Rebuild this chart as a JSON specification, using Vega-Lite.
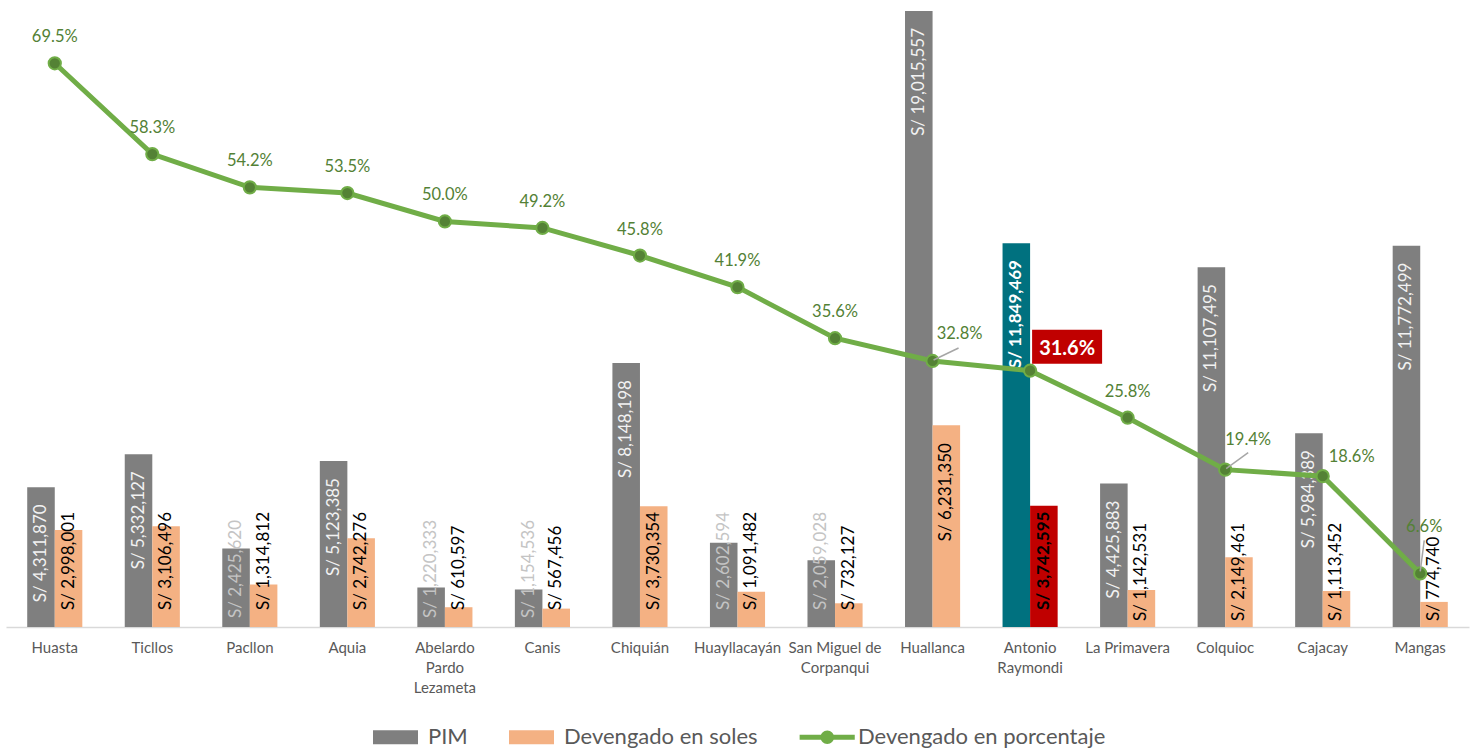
{
  "$schema": "https://vega.github.io/schema/vega-lite/v6.json",
  "width": 1463,
  "height": 627,
  "padding": {"left": 6, "top": 0, "right": 5, "bottom": 0},
  "background": "white",
  "datasets": {
    "bars": [
      {"distrito": "Huasta", "serie": "PIM", "monto": 4311870},
      {"distrito": "Huasta", "serie": "Devengado en soles", "monto": 2998001},
      {"distrito": "Ticllos", "serie": "PIM", "monto": 5332127},
      {"distrito": "Ticllos", "serie": "Devengado en soles", "monto": 3106496},
      {"distrito": "Pacllon", "serie": "PIM", "monto": 2425620},
      {"distrito": "Pacllon", "serie": "Devengado en soles", "monto": 1314812},
      {"distrito": "Aquia", "serie": "PIM", "monto": 5123385},
      {"distrito": "Aquia", "serie": "Devengado en soles", "monto": 2742276},
      {"distrito": "Abelardo Pardo Lezameta", "serie": "PIM", "monto": 1220333},
      {"distrito": "Abelardo Pardo Lezameta", "serie": "Devengado en soles", "monto": 610597},
      {"distrito": "Canis", "serie": "PIM", "monto": 1154536},
      {"distrito": "Canis", "serie": "Devengado en soles", "monto": 567456},
      {"distrito": "Chiquián", "serie": "PIM", "monto": 8148198},
      {"distrito": "Chiquián", "serie": "Devengado en soles", "monto": 3730354},
      {"distrito": "Huayllacayán", "serie": "PIM", "monto": 2602594},
      {"distrito": "Huayllacayán", "serie": "Devengado en soles", "monto": 1091482},
      {"distrito": "San Miguel de Corpanqui", "serie": "PIM", "monto": 2059028},
      {"distrito": "San Miguel de Corpanqui", "serie": "Devengado en soles", "monto": 732127},
      {"distrito": "Huallanca", "serie": "PIM", "monto": 19015557},
      {"distrito": "Huallanca", "serie": "Devengado en soles", "monto": 6231350},
      {"distrito": "Antonio Raymondi", "serie": "PIM", "monto": 11849469},
      {"distrito": "Antonio Raymondi", "serie": "Devengado en soles", "monto": 3742595},
      {"distrito": "La Primavera", "serie": "PIM", "monto": 4425883},
      {"distrito": "La Primavera", "serie": "Devengado en soles", "monto": 1142531},
      {"distrito": "Colquioc", "serie": "PIM", "monto": 11107495},
      {"distrito": "Colquioc", "serie": "Devengado en soles", "monto": 2149461},
      {"distrito": "Cajacay", "serie": "PIM", "monto": 5984389},
      {"distrito": "Cajacay", "serie": "Devengado en soles", "monto": 1113452},
      {"distrito": "Mangas", "serie": "PIM", "monto": 11772499},
      {"distrito": "Mangas", "serie": "Devengado en soles", "monto": 774740}
    ],
    "pct": [
      {"distrito": "Huasta", "pct": 0.695},
      {"distrito": "Ticllos", "pct": 0.583},
      {"distrito": "Pacllon", "pct": 0.542},
      {"distrito": "Aquia", "pct": 0.535},
      {"distrito": "Abelardo Pardo Lezameta", "pct": 0.500},
      {"distrito": "Canis", "pct": 0.492},
      {"distrito": "Chiquián", "pct": 0.458},
      {"distrito": "Huayllacayán", "pct": 0.419},
      {"distrito": "San Miguel de Corpanqui", "pct": 0.356},
      {"distrito": "Huallanca", "pct": 0.328},
      {"distrito": "Antonio Raymondi", "pct": 0.316},
      {"distrito": "La Primavera", "pct": 0.258},
      {"distrito": "Colquioc", "pct": 0.194},
      {"distrito": "Cajacay", "pct": 0.186},
      {"distrito": "Mangas", "pct": 0.066}
    ]
  },
  "encoding": {
    "x": {
      "field": "distrito",
      "type": "nominal",
      "scale": {
        "domain": ["Huasta", "Ticllos", "Pacllon", "Aquia", "Abelardo Pardo Lezameta", "Canis", "Chiquián", "Huayllacayán", "San Miguel de Corpanqui", "Huallanca", "Antonio Raymondi", "La Primavera", "Colquioc", "Cajacay", "Mangas"],
        "paddingInner": 0.435,
        "paddingOuter": 0.2175
      },
      "axis": {
        "title": null,
        "labelAngle": 0,
        "ticks": false,
        "tickSize": 0,
        "labelPadding": 13,
        "domainColor": "#D9D9D9",
        "domainWidth": 1.5,
        "labelFont": "Lato",
        "labelFontSize": 15,
        "labelColor": "#595959",
        "labelLineHeight": 20,
        "labelOverlap": false,
        "labelLimit": 0,
        "labelBound": false,
        "grid": false,
        "labelExpr": "datum.value == 'Abelardo Pardo Lezameta' ? ['Abelardo','Pardo','Lezameta'] : datum.value == 'San Miguel de Corpanqui' ? ['San Miguel de','Corpanqui'] : datum.value == 'Antonio Raymondi' ? ['Antonio','Raymondi'] : datum.value"
      }
    }
  },
  "layer": [
    {
      "data": {"name": "bars"},
      "encoding": {
        "xOffset": {"field": "serie", "type": "nominal", "scale": {"domain": ["PIM", "Devengado en soles"], "paddingInner": 0, "paddingOuter": 0}}
      },
      "layer": [
        {
          "mark": {"type": "bar"},
          "encoding": {
            "y": {"field": "monto", "type": "quantitative", "scale": {"domain": [0, 19355000], "nice": false, "zero": true}, "axis": null},
            "color": {
              "field": "serie",
              "type": "nominal",
              "scale": {"domain": ["PIM", "Devengado en soles", "Devengado en porcentaje"], "range": ["#7F7F7F", "#F4B183", "#70AD47"]},
              "condition": [
                {"test": "datum.distrito === 'Antonio Raymondi' && datum.serie === 'PIM'", "value": "#00717F"},
                {"test": "datum.distrito === 'Antonio Raymondi' && datum.serie === 'Devengado en soles'", "value": "#C00000"}
              ],
              "legend": {
                "orient": "none",
                "legendX": 367,
                "legendY": 714.5,
                "direction": "horizontal",
                "title": null,
                "padding": 0,
                "labelFont": "Lato",
                "labelFontSize": 22,
                "labelColor": "#595959",
                "labelLimit": 0,
                "labelOffset": 10,
                "columnPadding": 41,
                "symbolType": "M-1,-0.31H1V0.31H-1Z",
                "symbolSize": 2025,
                "symbolStrokeWidth": 0,
                "symbolOpacity": 1,
                "encode": {
                  "symbols": {
                    "update": {
                      "shape": {"signal": "datum.value === 'Devengado en porcentaje' ? 'M-1.15,-0.11H1.3V0.11H-1.15Z M0.38,0A0.3,0.3 0 1,1 -0.22,0A0.3,0.3 0 1,1 0.38,0Z' : 'M-1,-0.31H1V0.31H-1Z'"},
                      "fill": {"signal": "scale('color', datum.value)"},
                      "stroke": {"value": "transparent"},
                      "opacity": {"value": 1},
                      "fillOpacity": {"value": 1}
                    }
                  }
                }
              }
            }
          }
        },
        {
          "transform": [{"filter": "datum.serie === 'PIM' && datum.monto >= 3000000 && datum.distrito !== 'Antonio Raymondi'"}],
          "mark": {"type": "text", "angle": 270, "align": "right", "baseline": "middle", "dx": -17, "font": "Lato", "fontSize": 17, "fill": "#F2F2F2"},
          "encoding": {
            "y": {"field": "monto", "type": "quantitative"},
            "text": {"field": "monto", "type": "quantitative", "format": "$,.0f"}
          }
        },
        {
          "transform": [{"filter": "datum.serie === 'PIM' && indexof(['Pacllon','Abelardo Pardo Lezameta','Canis'], datum.distrito) >= 0"}],
          "mark": {"type": "text", "angle": 270, "align": "left", "baseline": "middle", "dx": 9, "font": "Lato", "fontSize": 17, "fill": "#C4C4C4"},
          "encoding": {
            "y": {"datum": 0, "type": "quantitative"},
            "text": {"field": "monto", "type": "quantitative", "format": "$,.0f"}
          }
        },
        {
          "transform": [{"filter": "datum.serie === 'PIM' && indexof(['Huayllacayán','San Miguel de Corpanqui'], datum.distrito) >= 0"}],
          "mark": {"type": "text", "angle": 270, "align": "left", "baseline": "middle", "dx": 17, "font": "Lato", "fontSize": 17, "fill": "#C4C4C4"},
          "encoding": {
            "y": {"datum": 0, "type": "quantitative"},
            "text": {"field": "monto", "type": "quantitative", "format": "$,.0f"}
          }
        },
        {
          "transform": [{"filter": "datum.serie === 'Devengado en soles' && indexof(['Huasta','Ticllos','Pacllon','Aquia','Abelardo Pardo Lezameta','Canis','Chiquián','Huayllacayán','San Miguel de Corpanqui'], datum.distrito) >= 0"}],
          "mark": {"type": "text", "angle": 270, "align": "left", "baseline": "middle", "dx": 17, "font": "Lato", "fontSize": 17, "fill": "#000000"},
          "encoding": {
            "y": {"datum": 0, "type": "quantitative"},
            "text": {"field": "monto", "type": "quantitative", "format": "$,.0f"}
          }
        },
        {
          "transform": [{"filter": "datum.serie === 'Devengado en soles' && indexof(['La Primavera','Colquioc','Cajacay','Mangas'], datum.distrito) >= 0"}],
          "mark": {"type": "text", "angle": 270, "align": "left", "baseline": "middle", "dx": 6, "font": "Lato", "fontSize": 17, "fill": "#000000"},
          "encoding": {
            "y": {"datum": 0, "type": "quantitative"},
            "text": {"field": "monto", "type": "quantitative", "format": "$,.0f"}
          }
        },
        {
          "transform": [{"filter": "datum.serie === 'Devengado en soles' && datum.distrito === 'Huallanca'"}],
          "mark": {"type": "text", "angle": 270, "align": "right", "baseline": "middle", "dx": -18, "font": "Lato", "fontSize": 17, "fill": "#000000"},
          "encoding": {
            "y": {"field": "monto", "type": "quantitative"},
            "text": {"field": "monto", "type": "quantitative", "format": "$,.0f"}
          }
        },
        {
          "transform": [{"filter": "datum.serie === 'PIM' && datum.distrito === 'Antonio Raymondi'"}],
          "mark": {"type": "text", "angle": 270, "align": "right", "baseline": "middle", "dx": -17, "font": "Lato", "fontSize": 17, "fontWeight": "bold", "fill": "#FFFFFF"},
          "encoding": {
            "y": {"field": "monto", "type": "quantitative"},
            "text": {"field": "monto", "type": "quantitative", "format": "$,.0f"}
          }
        },
        {
          "transform": [{"filter": "datum.serie === 'Devengado en soles' && datum.distrito === 'Antonio Raymondi'"}],
          "mark": {"type": "text", "angle": 270, "align": "left", "baseline": "middle", "dx": 17, "font": "Lato", "fontSize": 17, "fontWeight": "bold", "fill": "#000000"},
          "encoding": {
            "y": {"datum": 0, "type": "quantitative"},
            "text": {"field": "monto", "type": "quantitative", "format": "$,.0f"}
          }
        }
      ]
    },
    {
      "data": {"name": "pct"},
      "encoding": {
        "y": {"field": "pct", "type": "quantitative", "scale": {"domain": [0, 0.773], "nice": false, "zero": true}, "axis": null}
      },
      "layer": [
        {
          "mark": {"type": "line", "strokeWidth": 5},
          "encoding": {
            "color": {"datum": "Devengado en porcentaje", "type": "nominal", "scale": {"domain": ["PIM", "Devengado en soles", "Devengado en porcentaje"], "range": ["#7F7F7F", "#F4B183", "#70AD47"]}}
          }
        },
        {
          "mark": {"type": "point", "filled": true, "size": 150, "fill": "#548235", "stroke": "#70AD47", "strokeWidth": 2, "opacity": 1}
        },
        {
          "transform": [{"filter": "datum.distrito === 'Huallanca'"}],
          "mark": {"type": "point", "shape": "M1,-1L26,-13", "size": 4, "filled": false, "stroke": "#A6A6A6", "strokeWidth": 1.5, "opacity": 1}
        },
        {
          "transform": [{"filter": "datum.distrito === 'Colquioc'"}],
          "mark": {"type": "point", "shape": "M1,-1L23,-17", "size": 4, "filled": false, "stroke": "#A6A6A6", "strokeWidth": 1.5, "opacity": 1}
        },
        {
          "transform": [{"filter": "datum.distrito === 'Mangas'"}],
          "mark": {"type": "point", "shape": "M0,-2L4,-33", "size": 4, "filled": false, "stroke": "#A6A6A6", "strokeWidth": 1.5, "opacity": 1}
        },
        {
          "transform": [{"filter": "datum.distrito === 'Antonio Raymondi'"}],
          "mark": {"type": "point", "shape": "M2,-41H72V-7H2Z", "size": 4, "filled": true, "fill": "#C00000", "strokeWidth": 0, "opacity": 1}
        },
        {
          "transform": [{"filter": "indexof(['Huallanca','Antonio Raymondi','Colquioc','Cajacay','Mangas'], datum.distrito) < 0"}],
          "mark": {"type": "text", "dy": -26, "font": "Lato", "fontSize": 16.5, "fill": "#538135", "baseline": "middle"},
          "encoding": {"text": {"field": "pct", "type": "quantitative", "format": ".1%"}}
        },
        {
          "transform": [{"filter": "datum.distrito === 'Huallanca'"}],
          "mark": {"type": "text", "dx": 27, "dy": -27, "font": "Lato", "fontSize": 16.5, "fill": "#538135", "baseline": "middle"},
          "encoding": {"text": {"field": "pct", "type": "quantitative", "format": ".1%"}}
        },
        {
          "transform": [{"filter": "datum.distrito === 'Antonio Raymondi'"}],
          "mark": {"type": "text", "dx": 37, "dy": -22, "font": "Lato", "fontSize": 20, "fontWeight": "bold", "fill": "#FFFFFF", "baseline": "middle"},
          "encoding": {"text": {"field": "pct", "type": "quantitative", "format": ".1%"}}
        },
        {
          "transform": [{"filter": "datum.distrito === 'Colquioc'"}],
          "mark": {"type": "text", "dx": 23, "dy": -30, "font": "Lato", "fontSize": 16.5, "fill": "#538135", "baseline": "middle"},
          "encoding": {"text": {"field": "pct", "type": "quantitative", "format": ".1%"}}
        },
        {
          "transform": [{"filter": "datum.distrito === 'Cajacay'"}],
          "mark": {"type": "text", "dx": 29, "dy": -19, "font": "Lato", "fontSize": 16.5, "fill": "#538135", "baseline": "middle"},
          "encoding": {"text": {"field": "pct", "type": "quantitative", "format": ".1%"}}
        },
        {
          "transform": [{"filter": "datum.distrito === 'Mangas'"}],
          "mark": {"type": "text", "dx": 4, "dy": -46, "font": "Lato", "fontSize": 16.5, "fill": "#538135", "baseline": "middle"},
          "encoding": {"text": {"field": "pct", "type": "quantitative", "format": ".1%"}}
        }
      ]
    }
  ],
  "resolve": {"scale": {"y": "independent"}},
  "config": {
    "view": {"stroke": null},
    "font": "Lato",
    "locale": {"number": {"decimal": ".", "thousands": ",", "grouping": [3], "currency": ["S/ ", ""]}}
  }
}
